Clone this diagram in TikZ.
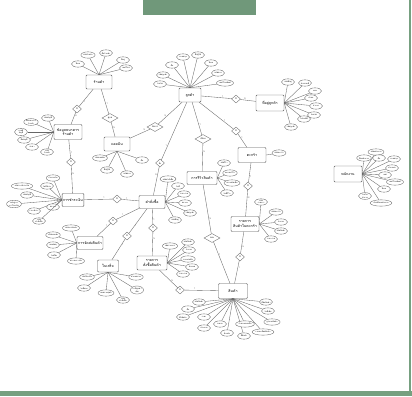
\documentclass[tikz,border=0pt]{standalone}
\usepackage{fontspec}
\setmainfont{Loma}[Script=Thai]
\usetikzlibrary{shapes.geometric}
\definecolor{frameg}{RGB}{118,160,128}
\definecolor{titleg}{RGB}{112,152,122}
\begin{document}
\begin{tikzpicture}[x=1pt,y=-1pt,
 ent/.style={draw=black!65, line width=0.45pt, rounded corners=1pt, fill=white, minimum width=26pt, minimum height=14pt, font=\fontsize{3.6}{4.1}\selectfont, align=center, inner sep=1pt},
 attr/.style={ellipse, draw=black!60, line width=0.35pt, fill=white, minimum width=13pt, minimum height=6.3pt, inner sep=0.2pt, font=\fontsize{2}{2.3}\selectfont, align=center},
 rel/.style={diamond, draw=black!60, line width=0.35pt, fill=white, inner sep=0.2pt, minimum width=9pt, minimum height=8pt, font=\fontsize{2.2}{2.5}\selectfont},
 wrel/.style={rel, minimum width=16pt, minimum height=9pt},
 lk/.style={draw=black!60, line width=0.35pt},
 card/.style={font=\fontsize{2.2}{2.5}\selectfont, text=black!55, inner sep=0.6pt}
]
\useasboundingbox (0,0) rectangle (412,396);
\fill[white] (0,0) rectangle (412,396);
% frame
\fill[titleg] (143,0) rectangle (256,15);
\fill[frameg] (408.5,0) rectangle (410.5,392);
\fill[frameg] (0,390.5) rectangle (412,396);

% entities
\node[ent] (shop) at (99,82) {ร้านค้า};
\node[ent, minimum width=28pt, minimum height=15pt] (bank) at (68,132) {ข้อมูลธนาคาร\\ร้านค้า};
\node[ent] (admin) at (117,144) {แอดมิน};
\node[ent, minimum width=22pt] (cust) at (190,95) {ลูกค้า};
\node[ent, minimum width=28pt, minimum height=16pt] (addr) at (270,103) {ที่อยู่ลูกค้า};
\node[ent, minimum width=28pt, minimum height=15pt] (cart) at (252,155) {ตะกร้า};
\node[ent, minimum width=30pt, minimum height=13pt] (review) at (202,178) {การรีวิวสินค้า};
\node[ent, minimum height=13pt] (order) at (152,202) {คำสั่งซื้อ};
\node[ent, minimum width=21pt, minimum height=13pt] (pay) at (73,200) {การชำระเงิน};
\node[ent, minimum height=13pt] (ship) at (90,243) {การจัดส่งสินค้า};
\node[ent, minimum width=21pt, minimum height=12pt] (receipt) at (108,266) {ใบเสร็จ};
\node[ent, minimum width=30pt] (oitem) at (152,263) {รายการ\\สั่งซื้อสินค้า};
\node[ent, minimum width=28pt, minimum height=15pt] (citem) at (245,224) {รายการ\\สินค้าในตะกร้า};
\node[ent, minimum width=29pt, minimum height=15pt] (prod) at (233,291) {สินค้า};
\node[ent, minimum width=28pt, minimum height=16pt] (emp) at (348,174) {พนักงาน};

% relationships
\node[rel] (r1) at (77,109) {มี};
\node[wrel] (r2) at (110,118) {ดูแล};
\node[wrel] (r3) at (155,127) {จัดการ};
\node[rel] (r4) at (236,99) {มี};
\node[rel] (r5) at (236,131) {มี};
\node[wrel] (r6) at (203,139) {เขียน};
\node[rel] (r7) at (160,163) {สั่ง};
\node[rel] (r8) at (71,162) {มี};
\node[rel] (r9) at (117,199) {มี};
\node[rel] (r10) at (113,221) {มี};
\node[rel] (r11) at (127,236) {มี};
\node[rel] (r12) at (153,228) {มี};
\node[rel] (r13) at (180,290) {มี};
\node[rel] (r14) at (248,186) {มี};
\node[rel] (r15) at (240,257) {มี};
\node[wrel] (r16) at (212,238) {ของ};

% relationship links
\draw[lk] (shop) -- node[card,pos=.7,right]{1} (r1);
\draw[lk] (r1) -- node[card,pos=.3,right]{N} (bank);
\draw[lk] (shop) -- node[card,pos=.6,right]{1} (r2);
\draw[lk] (r2) -- node[card,pos=.4,right]{N} (admin);
\draw[lk] (admin) -- node[card,pos=.7,above]{N} (r3);
\draw[lk] (r3) -- node[card,pos=.3,above]{N} (cust);
\draw[lk] (cust) -- node[card,pos=.7,above]{1} (r4);
\draw[lk] (r4) -- node[card,pos=.3,above]{N} (addr);
\draw[lk] (cust) -- node[card,pos=.7,right]{1} (r5);
\draw[lk] (r5) -- node[card,pos=.3,right]{1} (cart);
\draw[lk] (cust) -- node[card,pos=.7,right]{1} (r6);
\draw[lk] (r6) -- node[card,pos=.3,right]{N} (review);
\draw[lk] (cust) -- node[card,pos=.75,left]{1} (r7);
\draw[lk] (r7) -- node[card,pos=.3,left]{N} (order);
\draw[lk] (bank) -- node[card,pos=.7,right]{1} (r8);
\draw[lk] (r8) -- node[card,pos=.3,right]{N} (pay);
\draw[lk] (pay) -- node[card,pos=.7,above]{1} (r9);
\draw[lk] (r9) -- node[card,pos=.3,above]{1} (order);
\draw[lk] (order) -- node[card,pos=.7,above]{1} (r10);
\draw[lk] (r10) -- node[card,pos=.3,above]{1} (ship);
\draw[lk] (order) -- node[card,pos=.7,right]{1} (r11);
\draw[lk] (r11) -- node[card,pos=.3,right]{1} (receipt);
\draw[lk] (order) -- node[card,pos=.7,right]{1} (r12);
\draw[lk] (r12) -- node[card,pos=.3,right]{N} (oitem);
\draw[lk] (oitem) -- node[card,pos=.7,above]{N} (r13);
\draw[lk] (r13) -- node[card,pos=.3,above]{1} (prod);
\draw[lk] (cart) -- node[card,pos=.7,right]{1} (r14);
\draw[lk] (r14) -- node[card,pos=.3,right]{N} (citem);
\draw[lk] (citem) -- node[card,pos=.7,right]{N} (r15);
\draw[lk] (r15) -- node[card,pos=.3,right]{1} (prod);
\draw[lk] (review) -- node[card,pos=.7,right]{N} (r16);
\draw[lk] (r16) -- node[card,pos=.3,right]{1} (prod);

% attributes: shop
\foreach \n/\p/\t in {s1/{(78,64)}/อีเมล, s2/{(88,55)}/รหัสร้านค้า, s3/{(106,53)}/ชื่อร้านค้า, s4/{(123,60)}/ที่อยู่, s5/{(126,68)}/เบอร์โทร}
 {\node[attr] (\n) at \p {\t}; \draw[lk] (\n) -- (shop.north);}
% bank
\foreach \n/\p/\t in {b1/{(48,118)}/รหัสบัญชี, b2/{(31,122)}/{ชื่อธนาคาร\\ร้านค้า}, b3/{(21,132)}/{เลขที่\\บัญชี}, b4/{(24,140)}/ชื่อบัญชี, b5/{(32,147)}/สาขา, b6/{(47,152)}/{รหัส\\ร้านค้า}}
 {\node[attr] (\n) at \p {\t}; \draw[lk] (\n) -- (bank.west);}
% admin
\foreach \n/\p/\t in {a1/{(100,158)}/รหัสแอดมิน, a2/{(107,170)}/ชื่อผู้ใช้, a3/{(127,174)}/รหัสผ่าน, a4/{(142,160)}/ชื่อ}
 {\node[attr] (\n) at \p {\t}; \draw[lk] (\n) -- (admin.south);}
% customer
\foreach \n/\p/\t in {c1/{(160,84)}/วันเกิด, c2/{(163,75)}/รหัสลูกค้า, c3/{(172,65)}/ชื่อ, c4/{(183,57)}/นามสกุล, c5/{(198,55)}/ชื่อผู้ใช้, c6/{(211,63)}/อีเมล, c7/{(218,73)}/รหัสผ่าน, c8/{(225,83)}/เบอร์โทรศัพท์}
 {\node[attr] (\n) at \p {\t}; \draw[lk] (\n) -- (cust.north);}
% address
\foreach \n/\p/\t in {d1/{(288,82)}/รหัสที่อยู่, d2/{(305,83)}/บ้านเลขที่, d3/{(315,91)}/ถนน, d4/{(311,98)}/ตำบล, d5/{(316,106)}/อำเภอ, d6/{(314,115)}/จังหวัด, d7/{(304,119)}/ไปรษณีย์, d8/{(291,127)}/รหัสลูกค้า}
 {\node[attr] (\n) at \p {\t}; \draw[lk] (\n) -- (addr.east);}
% cart
\node[attr] (k1) at (279,153) {รหัสตะกร้า};
\draw[lk] (k1) -- (cart.east);
% review
\foreach \n/\p/\t in {v1/{(224,163)}/รหัสรีวิว, v2/{(230,173)}/คะแนนรีวิว, v3/{(232,183)}/ความคิดเห็น, v4/{(227,193)}/วันที่รีวิว}
 {\node[attr] (\n) at \p {\t}; \draw[lk] (\n) -- (review.east);}
% cart item
\foreach \n/\p/\t in {i1/{(261,202)}/{รหัส\\รายการ}, i2/{(276,212)}/รหัสตะกร้า, i3/{(281,222)}/จำนวน, i4/{(281,231)}/รหัสสินค้า, i5/{(271,239)}/ราคารวม}
 {\node[attr] (\n) at \p {\t}; \draw[lk] (\n) -- (citem.east);}
% order
\foreach \n/\p/\t in {o1/{(168,179)}/รหัสคำสั่งซื้อ, o2/{(178,186)}/วันที่, o3/{(184,194)}/ราคารวม, o4/{(185,203)}/สถานะ, o5/{(190,213)}/รหัสลูกค้า, o6/{(175,220)}/รหัสที่อยู่}
 {\node[attr] (\n) at \p {\t}; \draw[lk] (\n) -- (order.east);}
% payment
\foreach \n/\p/\t in {p1/{(22,186)}/รหัสการชำระเงิน, p2/{(47,186)}/วันที่ชำระ, p3/{(53,178)}/จำนวนเงิน, p4/{(27,195)}/รหัสบัญชี, p5/{(14,204)}/{หลักฐาน\\การโอนเงิน}, p6/{(34,211)}/เวลาชำระ, p7/{(53,207)}/สถานะ, p8/{(39,221)}/{รหัส\\คำสั่งซื้อ}}
 {\node[attr] (\n) at \p {\t}; \draw[lk] (\n) -- (pay.west);}
% shipping
\foreach \n/\p/\t in {h1/{(71,228)}/รหัสการจัดส่ง, h2/{(53,235)}/บริษัทขนส่ง, h3/{(53,245)}/เลขพัสดุ, h4/{(54,255)}/วันที่ส่ง, h5/{(76,261)}/สถานะการส่ง}
 {\node[attr] (\n) at \p {\t}; \draw[lk] (\n) -- (ship.west);}
% receipt
\foreach \n/\p/\t in {e1/{(87,277)}/รหัสใบเสร็จ, e2/{(84,288)}/วันที่ออก, e3/{(106,293)}/ยอดรวมสุทธิ, e4/{(123,300)}/{รหัส\\คำสั่งซื้อ}, e5/{(137,290)}/{ภาษีมูลค่า\\เพิ่ม}, e6/{(136,277)}/ส่วนลดรวม}
 {\node[attr] (\n) at \p {\t}; \draw[lk] (\n) -- (receipt.south);}
% order item
\foreach \n/\p/\t in {t1/{(170,246)}/รหัสรายการ, t2/{(188,242)}/รหัสสินค้า, t3/{(189,250)}/จำนวน, t4/{(188,259)}/ราคาต่อชิ้น, t5/{(192,267)}/ส่วนลด, t6/{(183,274)}/ราคารวม}
 {\node[attr] (\n) at \p {\t}; \draw[lk] (\n) -- (oitem.east);}
% product
\foreach \n/\p/\t in {g1/{(199,302)}/รหัสสินค้า, g2/{(188,309)}/ชื่อ, g3/{(183,317)}/ชื่อสินค้า, g4/{(204,317)}/ราคา, g5/{(204,328)}/ประเภท, g6/{(220,324)}/ขนาด, g7/{(227,333)}/น้ำหนัก, g8/{(244,336)}/สีสินค้า, g9/{(245,324)}/จำนวนคงเหลือ, g10/{(263,332)}/รายละเอียดสินค้า, g11/{(272,322)}/รูปภาพสินค้า, g12/{(268,311)}/วันที่เพิ่ม, g13/{(266,302)}/ยี่ห้อสินค้า}
 {\node[attr] (\n) at \p {\t}; \draw[lk] (\n) -- (prod.south);}
% employee
\foreach \n/\p/\t in {m1/{(376,152)}/รหัสพนักงาน, m2/{(364,158)}/ชื่อพนักงาน, m3/{(379,158)}/ชื่อ, m4/{(394,159)}/นามสกุล, m5/{(392,168)}/ตำแหน่ง, m6/{(385,175)}/เพศ, m7/{(395,182)}/เบอร์โทรศัพท์, m8/{(384,189)}/อีเมล, m9/{(365,196)}/{วันเริ่ม\\ทำงาน}, m10/{(381,203)}/เงินเดือนพนักงาน}
 {\node[attr] (\n) at \p {\t}; \draw[lk] (\n) -- (emp.east);}
\end{tikzpicture}
\end{document}
